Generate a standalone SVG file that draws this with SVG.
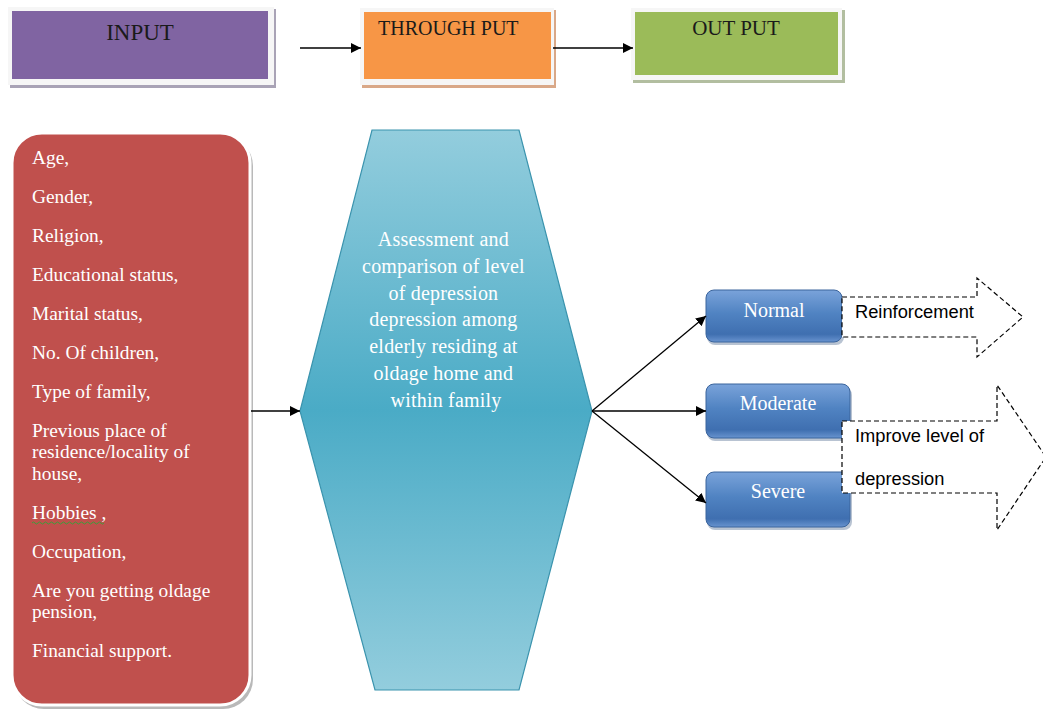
<svg xmlns="http://www.w3.org/2000/svg" width="1043" height="713" viewBox="0 0 1043 713">
<defs>
<style>
.serif{font-family:"Liberation Serif","Times New Roman",serif;}
.sans{font-family:"Liberation Sans",Arial,sans-serif;}
.title{font-size:20px;fill:#1a1a1a;}
.list{font-size:19.4px;fill:#ffffff;}
.hex{font-size:20px;fill:#ffffff;letter-spacing:0.2px;}
.lvl{font-size:20px;fill:#ffffff;}
.blk{font-size:18.3px;fill:#000000;}
.frame{fill:#f6f6f6;}
.conn{stroke:#000;stroke-width:1.3;fill:none;}
.dash{fill:#ffffff;stroke:#000;stroke-width:1.2;stroke-dasharray:5 3;}
.bluebox{fill:url(#blueGrad);stroke:#3a649c;stroke-width:1;}
.bshadow{fill:#9aa9bf;opacity:0.7;}
</style>
<marker id="arr" viewBox="0 0 10 10" refX="10" refY="5" markerWidth="10" markerHeight="10" markerUnits="userSpaceOnUse" orient="auto">
<path d="M0,0 L10,5 L0,10 z" fill="#000"/>
</marker>
<linearGradient id="hexGrad" x1="0" y1="0" x2="0" y2="1">
<stop offset="0" stop-color="#93cddd"/>
<stop offset="0.5" stop-color="#4aabc6"/>
<stop offset="1" stop-color="#93cddd"/>
</linearGradient>
<linearGradient id="blueGrad" x1="0" y1="0" x2="0" y2="1">
<stop offset="0" stop-color="#7aa3da"/>
<stop offset="0.45" stop-color="#5083c2"/>
<stop offset="0.85" stop-color="#3f6fb0"/>
<stop offset="1" stop-color="#6893cf"/>
</linearGradient>
</defs>
<rect width="1043" height="713" fill="#ffffff"/>

<g id="input">
<rect x="10" y="9" width="266" height="79" fill="#a9a3b6"/>
<rect x="8" y="7" width="266" height="78" class="frame"/>
<rect x="12" y="11" width="256" height="68" fill="#8064a2"/>
<text x="140" y="40" class="serif title" style="font-size:23px" text-anchor="middle">INPUT</text>
</g>

<g id="throughput">
<rect x="362" y="10" width="194" height="78" fill="#d9a888"/>
<rect x="360" y="8" width="194" height="77" class="frame"/>
<rect x="364" y="12" width="187" height="67" fill="#f79646"/>
<text x="378" y="35" class="serif title">THROUGH PUT</text>
</g>

<g id="output">
<rect x="633" y="10" width="212" height="73" fill="#b2bea0"/>
<rect x="631" y="8" width="211" height="72" class="frame"/>
<rect x="635" y="12" width="203" height="63" fill="#9bbb59"/>
<text x="736" y="35" class="serif title" style="font-size:21px" text-anchor="middle">OUT PUT</text>
</g>

<g id="variables">
<rect x="14" y="136" width="239" height="573" rx="30" fill="#b9b9b9"/>
<rect x="12" y="133" width="238" height="572" rx="30" fill="#c0504d" stroke="#ffffff" stroke-width="3"/>
<text class="serif list" x="32">
<tspan x="32" y="164">Age,</tspan>
<tspan x="32" y="203">Gender,</tspan>
<tspan x="32" y="242">Religion,</tspan>
<tspan x="32" y="281">Educational status,</tspan>
<tspan x="32" y="320">Marital status,</tspan>
<tspan x="32" y="359">No. Of children,</tspan>
<tspan x="32" y="398">Type of family,</tspan>
<tspan x="32" y="437">Previous place of</tspan>
<tspan x="32" y="458">residence/locality of</tspan>
<tspan x="32" y="480">house,</tspan>
<tspan x="32" y="519">Hobbies ,</tspan>
<tspan x="32" y="558">Occupation,</tspan>
<tspan x="32" y="597">Are you getting oldage</tspan>
<tspan x="32" y="618">pension,</tspan>
<tspan x="32" y="657">Financial support.</tspan>
</text>
<path d="M32,523 q1.5,-2 3,0 t3,0 t3,0 t3,0 t3,0 t3,0 t3,0 t3,0 t3,0 t3,0 t3,0 t3,0 t3,0 t3,0 t3,0 t3,0 t3,0 t3,0 t3,0 t3,0 t3,0 t3,0 t3,0 t3,0" fill="none" stroke="#3aa03a" stroke-width="1"/>
</g>

<g id="assessment">
<polygon points="372,130 519,130 592,411 519,690 375,690 300,411" fill="url(#hexGrad)" stroke="#3a93ad" stroke-width="1.2"/>
<text class="serif hex" text-anchor="middle">
<tspan x="446" y="246">Assessment and</tspan>
<tspan x="446" y="273">comparison of level</tspan>
<tspan x="446" y="300">of depression</tspan>
<tspan x="446" y="326">depression among</tspan>
<tspan x="446" y="353">elderly residing at</tspan>
<tspan x="446" y="380">oldage home and</tspan>
<tspan x="446" y="407">within family</tspan>
</text>
</g>

<g id="normal">
<rect x="707" y="293" width="137" height="52" rx="8" class="bshadow"/>
<rect x="706" y="290" width="136" height="52" rx="8" class="bluebox"/>
<text x="774" y="317" class="serif lvl" text-anchor="middle">Normal</text>
</g>

<g id="moderate">
<rect x="707" y="387" width="145" height="54" rx="8" class="bshadow"/>
<rect x="706" y="384" width="144" height="54" rx="8" class="bluebox"/>
<text x="778" y="410" class="serif lvl" text-anchor="middle">Moderate</text>
</g>

<g id="severe">
<rect x="707" y="475" width="145" height="55" rx="8" class="bshadow"/>
<rect x="706" y="472" width="144" height="55" rx="8" class="bluebox"/>
<text x="778" y="498" class="serif lvl" text-anchor="middle">Severe</text>
</g>

<g id="reinforcement">
<path d="M842,297 L977,297 L977,278 L1023,317 L977,357 L977,337 L842,337 Z" class="dash"/>
<text x="855" y="318" class="sans blk">Reinforcement</text>
</g>

<g id="improve">
<path d="M842,421 L997,421 L997,385 L1046,457 L997,530 L997,493 L842,493 Z" class="dash"/>
<text x="855" y="442" class="sans blk">Improve level of</text>
<text x="855" y="485" class="sans blk">depression</text>
</g>

<g id="connectors">
<line x1="300" y1="48" x2="361" y2="48" class="conn" marker-end="url(#arr)"/>
<line x1="553" y1="48" x2="633" y2="48" class="conn" marker-end="url(#arr)"/>
<line x1="251" y1="411" x2="300" y2="411" class="conn" marker-end="url(#arr)"/>
<line x1="592" y1="411" x2="706" y2="316" class="conn" marker-end="url(#arr)"/>
<line x1="592" y1="411" x2="706" y2="411" class="conn" marker-end="url(#arr)"/>
<line x1="592" y1="411" x2="706" y2="503" class="conn" marker-end="url(#arr)"/>
</g>
</svg>
